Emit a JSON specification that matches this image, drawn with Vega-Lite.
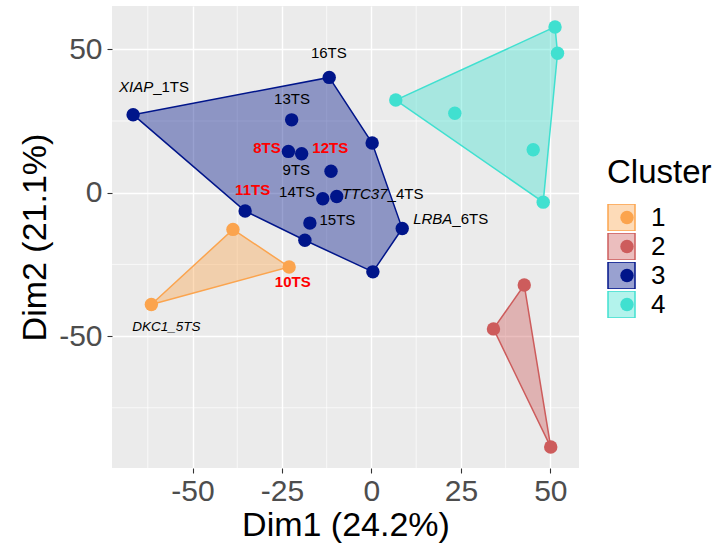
{
  "$schema": "https://vega.github.io/schema/vega-lite/v6.json",
  "width": 467,
  "height": 462,
  "autosize": {"type": "none"},
  "padding": {"left": 112, "top": 6, "right": 140, "bottom": 80},
  "background": "white",
  "config": {
    "font": "Liberation Sans",
    "view": {"fill": "#EBEBEB", "stroke": null},
    "axis": {
      "domain": false,
      "grid": true,
      "gridColor": "white",
      "gridWidth": 1.4,
      "tickColor": "#333333",
      "tickSize": 5,
      "tickWidth": 1.1,
      "labelFont": "Liberation Sans",
      "labelFontSize": 30,
      "labelColor": "#4D4D4D",
      "titleFont": "Liberation Sans",
      "titleFontSize": 34,
      "titleFontWeight": "normal",
      "titleColor": "black"
    },
    "axisX": {"labelPadding": 3},
    "axisY": {"labelPadding": 5}
  },
  "datasets": {
    "pts": [
      {"name": "XIAP_1TS", "Cluster": "3", "Dim1": -66.6, "Dim2": 27.2, "hull": 1},
      {"name": "16TS", "Cluster": "3", "Dim1": -11.8, "Dim2": 40.2, "hull": 2},
      {"name": "S3a", "Cluster": "3", "Dim1": 0.2, "Dim2": 17.3, "hull": 3},
      {"name": "LRBA_6TS", "Cluster": "3", "Dim1": 8.6, "Dim2": -12.5, "hull": 4},
      {"name": "S3b", "Cluster": "3", "Dim1": 0.4, "Dim2": -27.6, "hull": 5},
      {"name": "S3c", "Cluster": "3", "Dim1": -18.6, "Dim2": -16.6, "hull": 6},
      {"name": "11TS", "Cluster": "3", "Dim1": -35.3, "Dim2": -6.4, "hull": 7},
      {"name": "13TS", "Cluster": "3", "Dim1": -22.3, "Dim2": 25.4, "hull": null},
      {"name": "8TS", "Cluster": "3", "Dim1": -23.2, "Dim2": 14.4, "hull": null},
      {"name": "12TS", "Cluster": "3", "Dim1": -19.5, "Dim2": 13.6, "hull": null},
      {"name": "9TS", "Cluster": "3", "Dim1": -11.3, "Dim2": 7.5, "hull": null},
      {"name": "14TS", "Cluster": "3", "Dim1": -13.6, "Dim2": -2.1, "hull": null},
      {"name": "TTC37_4TS", "Cluster": "3", "Dim1": -9.7, "Dim2": -1.3, "hull": null},
      {"name": "15TS", "Cluster": "3", "Dim1": -17.2, "Dim2": -10.6, "hull": null},
      {"name": "S1a", "Cluster": "1", "Dim1": -38.7, "Dim2": -12.8, "hull": 1},
      {"name": "10TS", "Cluster": "1", "Dim1": -23.0, "Dim2": -25.9, "hull": 2},
      {"name": "DKC1_5TS", "Cluster": "1", "Dim1": -61.5, "Dim2": -39.0, "hull": 3},
      {"name": "S2a", "Cluster": "2", "Dim1": 42.7, "Dim2": -32.2, "hull": 1},
      {"name": "S2b", "Cluster": "2", "Dim1": 50.1, "Dim2": -88.7, "hull": 2},
      {"name": "S2c", "Cluster": "2", "Dim1": 34.1, "Dim2": -47.5, "hull": 3},
      {"name": "S4a", "Cluster": "4", "Dim1": 51.3, "Dim2": 57.8, "hull": 1},
      {"name": "S4b", "Cluster": "4", "Dim1": 52.0, "Dim2": 48.6, "hull": 2},
      {"name": "S4c", "Cluster": "4", "Dim1": 48.0, "Dim2": -3.3, "hull": 3},
      {"name": "S4d", "Cluster": "4", "Dim1": 6.8, "Dim2": 32.3, "hull": 4},
      {"name": "S4e", "Cluster": "4", "Dim1": 23.3, "Dim2": 27.7, "hull": null},
      {"name": "S4f", "Cluster": "4", "Dim1": 45.2, "Dim2": 15.0, "hull": null}
    ],
    "labs": [
      {"part1": "16TS", "part2": "", "lx": -11.9, "ly": 48.6, "kind": "plain"},
      {"part1": "13TS", "part2": "", "lx": -22.2, "ly": 32.7, "kind": "plain"},
      {"part1": "9TS", "part2": "", "lx": -21.0, "ly": 7.8, "kind": "plain"},
      {"part1": "14TS", "part2": "", "lx": -20.8, "ly": 0.2, "kind": "plain"},
      {"part1": "15TS", "part2": "", "lx": -9.5, "ly": -9.5, "kind": "plain"},
      {"part1": "8TS", "part2": "", "lx": -29.2, "ly": 15.7, "kind": "hi"},
      {"part1": "12TS", "part2": "", "lx": -11.5, "ly": 15.7, "kind": "hi"},
      {"part1": "11TS", "part2": "", "lx": -33.2, "ly": 1.0, "kind": "hi"},
      {"part1": "10TS", "part2": "", "lx": -22.0, "ly": -31.1, "kind": "hi"},
      {"part1": "XIAP", "part2": "_1TS", "lx": -61.0, "ly": 36.7, "kind": "gene"},
      {"part1": "TTC37", "part2": "_4TS", "lx": 4.5, "ly": -0.5, "kind": "gene"},
      {"part1": "LRBA", "part2": "_6TS", "lx": 22.6, "ly": -9.3, "kind": "gene"},
      {"part1": "DKC1_5TS", "part2": "", "lx": -57.3, "ly": -47.0, "kind": "gene2"}
    ],
    "minx": [{"v": -62.5}, {"v": -37.5}, {"v": -12.5}, {"v": 12.5}, {"v": 37.5}],
    "miny": [{"v": -75}, {"v": -25}, {"v": 25}]
  },
  "layer": [
    {
      "data": {"name": "minx"},
      "mark": {"type": "rule", "color": "white", "strokeWidth": 0.7},
      "encoding": {
        "x": {"field": "v", "type": "quantitative", "title": "Dim1 (24.2%)", "scale": {"domain": [-72.5, 58], "nice": false, "zero": false},
              "axis": {"values": [-50, -25, 0, 25, 50], "titlePadding": 2, "labelExpr": "datum.value + ''"}}
      }
    },
    {
      "data": {"name": "miny"},
      "mark": {"type": "rule", "color": "white", "strokeWidth": 0.7},
      "encoding": {
        "y": {"field": "v", "type": "quantitative", "title": "Dim2 (21.1%)", "scale": {"domain": [-96, 65.1], "nice": false, "zero": false},
              "axis": {"values": [-50, 0, 50], "titlePadding": 6, "labelExpr": "datum.value + ''"}}
      }
    },
    {
      "data": {"name": "pts"},
      "transform": [{"filter": "datum.hull != null"}],
      "mark": {"type": "line", "interpolate": "linear-closed", "strokeWidth": 1.5, "fillOpacity": 0.4},
      "encoding": {
        "x": {"field": "Dim1", "type": "quantitative", "title": "Dim1 (24.2%)", "scale": {"domain": [-72.5, 58], "nice": false, "zero": false},
              "axis": {"values": [-50, -25, 0, 25, 50], "titlePadding": 2, "labelExpr": "datum.value + ''"}},
        "y": {"field": "Dim2", "type": "quantitative", "title": "Dim2 (21.1%)", "scale": {"domain": [-96, 65.1], "nice": false, "zero": false},
              "axis": {"values": [-50, 0, 50], "titlePadding": 6, "labelExpr": "datum.value + ''"}},
        "order": {"field": "hull", "type": "quantitative"},
        "stroke": {"field": "Cluster", "type": "nominal",
                   "scale": {"range": ["#FBA44E", "#CD5C5C", "#00158A", "#40E0D0"]},
                   "legend": {"title": "Cluster", "orient": "none", "legendX": 495, "legendY": 151, "symbolType": "square", "symbolSize": 729, "symbolStrokeWidth": 1.5, "clipHeight": 27, "rowPadding": 2, "labelOffset": 15, "titlePadding": 14, "titleFontSize": 33, "titleFontWeight": "normal", "titleColor": "black", "labelFontSize": 26, "labelColor": "black", "padding": 0, "zindex": 0,
                              "encode": {"symbols": {"update": {"fillOpacity": {"value": 0.4}, "strokeOpacity": {"value": 1}, "opacity": {"value": 1}}}}}},
        "fill": {"field": "Cluster", "type": "nominal",
                 "scale": {"range": ["#FBA44E", "#CD5C5C", "#00158A", "#40E0D0"]},
                 "legend": {"title": "Cluster", "orient": "none", "legendX": 495, "legendY": 151, "symbolType": "square", "symbolSize": 729, "symbolStrokeWidth": 1.5, "clipHeight": 27, "rowPadding": 2, "labelOffset": 15, "titlePadding": 14, "titleFontSize": 33, "titleFontWeight": "normal", "titleColor": "black", "labelFontSize": 26, "labelColor": "black", "padding": 0, "zindex": 0,
                            "encode": {"symbols": {"update": {"fillOpacity": {"value": 0.4}, "strokeOpacity": {"value": 1}, "opacity": {"value": 1}}}}}}
      }
    },
    {
      "data": {"name": "pts"},
      "mark": {"type": "circle", "size": 180, "opacity": 1},
      "encoding": {
        "x": {"field": "Dim1", "type": "quantitative", "title": "Dim1 (24.2%)", "scale": {"domain": [-72.5, 58], "nice": false, "zero": false},
              "axis": {"values": [-50, -25, 0, 25, 50], "titlePadding": 2, "labelExpr": "datum.value + ''"}},
        "y": {"field": "Dim2", "type": "quantitative", "title": "Dim2 (21.1%)", "scale": {"domain": [-96, 65.1], "nice": false, "zero": false},
              "axis": {"values": [-50, 0, 50], "titlePadding": 6, "labelExpr": "datum.value + ''"}},
        "color": {"field": "Cluster", "type": "nominal",
                  "scale": {"domain": ["1", "2", "3", "4"], "range": ["#FBA44E", "#CD5C5C", "#00158A", "#40E0D0"]},
                  "legend": {"title": null, "orient": "none", "legendX": 502, "legendY": 198, "symbolType": "circle", "symbolSize": 180, "symbolStrokeWidth": 0, "clipHeight": 27, "rowPadding": 2, "labelExpr": "''", "labelOffset": 0, "labelFontSize": 26, "padding": 0, "zindex": 1}}
      }
    },
    {
      "data": {"name": "labs"},
      "transform": [{"filter": "datum.kind == 'plain'"}],
      "mark": {"type": "text", "fontSize": 15, "color": "black", "align": "center", "baseline": "middle"},
      "encoding": {
        "x": {"field": "lx", "type": "quantitative", "title": "Dim1 (24.2%)", "scale": {"domain": [-72.5, 58], "nice": false, "zero": false},
              "axis": {"values": [-50, -25, 0, 25, 50], "titlePadding": 2, "labelExpr": "datum.value + ''"}},
        "y": {"field": "ly", "type": "quantitative", "title": "Dim2 (21.1%)", "scale": {"domain": [-96, 65.1], "nice": false, "zero": false},
              "axis": {"values": [-50, 0, 50], "titlePadding": 6, "labelExpr": "datum.value + ''"}},
        "text": {"field": "part1"}
      }
    },
    {
      "data": {"name": "labs"},
      "transform": [{"filter": "datum.kind == 'hi'"}],
      "mark": {"type": "text", "fontSize": 15, "fontWeight": "bold", "color": "#FF0000", "align": "center", "baseline": "middle"},
      "encoding": {
        "x": {"field": "lx", "type": "quantitative", "title": "Dim1 (24.2%)", "scale": {"domain": [-72.5, 58], "nice": false, "zero": false},
              "axis": {"values": [-50, -25, 0, 25, 50], "titlePadding": 2, "labelExpr": "datum.value + ''"}},
        "y": {"field": "ly", "type": "quantitative", "title": "Dim2 (21.1%)", "scale": {"domain": [-96, 65.1], "nice": false, "zero": false},
              "axis": {"values": [-50, 0, 50], "titlePadding": 6, "labelExpr": "datum.value + ''"}},
        "text": {"field": "part1"}
      }
    },
    {
      "data": {"name": "labs"},
      "transform": [{"filter": "datum.kind == 'gene'"}],
      "mark": {"type": "text", "fontSize": 15, "fontStyle": "italic", "color": "black", "align": "right", "baseline": "middle"},
      "encoding": {
        "x": {"field": "lx", "type": "quantitative", "title": "Dim1 (24.2%)", "scale": {"domain": [-72.5, 58], "nice": false, "zero": false},
              "axis": {"values": [-50, -25, 0, 25, 50], "titlePadding": 2, "labelExpr": "datum.value + ''"}},
        "y": {"field": "ly", "type": "quantitative", "title": "Dim2 (21.1%)", "scale": {"domain": [-96, 65.1], "nice": false, "zero": false},
              "axis": {"values": [-50, 0, 50], "titlePadding": 6, "labelExpr": "datum.value + ''"}},
        "text": {"field": "part1"}
      }
    },
    {
      "data": {"name": "labs"},
      "transform": [{"filter": "datum.kind == 'gene'"}],
      "mark": {"type": "text", "fontSize": 15, "color": "black", "align": "left", "baseline": "middle"},
      "encoding": {
        "x": {"field": "lx", "type": "quantitative", "title": "Dim1 (24.2%)", "scale": {"domain": [-72.5, 58], "nice": false, "zero": false},
              "axis": {"values": [-50, -25, 0, 25, 50], "titlePadding": 2, "labelExpr": "datum.value + ''"}},
        "y": {"field": "ly", "type": "quantitative", "title": "Dim2 (21.1%)", "scale": {"domain": [-96, 65.1], "nice": false, "zero": false},
              "axis": {"values": [-50, 0, 50], "titlePadding": 6, "labelExpr": "datum.value + ''"}},
        "text": {"field": "part2"}
      }
    },
    {
      "data": {"name": "labs"},
      "transform": [{"filter": "datum.kind == 'gene2'"}],
      "mark": {"type": "text", "fontSize": 13.5, "fontStyle": "italic", "color": "black", "align": "center", "baseline": "middle"},
      "encoding": {
        "x": {"field": "lx", "type": "quantitative", "title": "Dim1 (24.2%)", "scale": {"domain": [-72.5, 58], "nice": false, "zero": false},
              "axis": {"values": [-50, -25, 0, 25, 50], "titlePadding": 2, "labelExpr": "datum.value + ''"}},
        "y": {"field": "ly", "type": "quantitative", "title": "Dim2 (21.1%)", "scale": {"domain": [-96, 65.1], "nice": false, "zero": false},
              "axis": {"values": [-50, 0, 50], "titlePadding": 6, "labelExpr": "datum.value + ''"}},
        "text": {"field": "part1"}
      }
    }
  ]
}
